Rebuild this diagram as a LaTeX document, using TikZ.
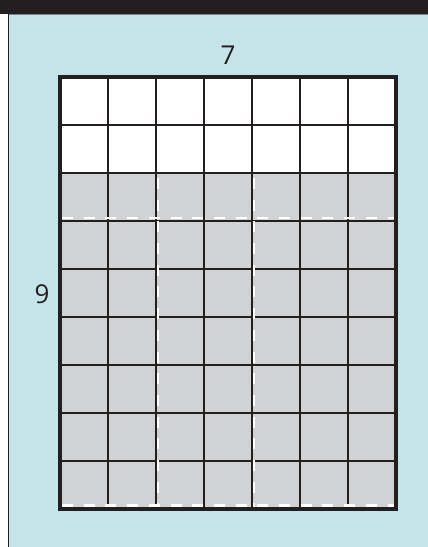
\documentclass[tikz,border=0pt]{standalone}
\usepackage{fontspec}
\setmainfont{Open Sans}
\definecolor{panelblue}{HTML}{C5E4E9}
\definecolor{cellgray}{HTML}{D1D2D4}
\definecolor{inkblack}{HTML}{231F20}
\definecolor{rulegray}{HTML}{808285}
\usetikzlibrary{positioning}

\begin{document}
\begin{tikzpicture}[
    x=1pt, y=1pt,
    gridline/.style={draw=inkblack, line width=1.3pt},
    frame/.style={draw=inkblack, line width=3.5pt},
    cutline/.style={draw=white, line width=2.6pt, dash pattern=on 11pt off 10.7pt},
    dimlabel/.style={font=\fontsize{26}{30}\selectfont, text=inkblack}
  ]
    \useasboundingbox (0,0) rectangle (428,547);

    % panel and title bar
    \fill[panelblue] (8,0) rectangle (428,532);
    \fill[inkblack] (0,533) rectangle (428,547);
    \fill[rulegray] (8,531.5) rectangle (428,533);
    \draw[inkblack, line width=1pt] (8,0) -- (8,533);

    % board of 7 x 9 cells
    \fill[white] (60,374) rectangle (396,470);
    \fill[cellgray] (60,38) rectangle (396,374);
    \draw[gridline, shift={(60,38)}] (0,0) grid[step=48pt] (336.5,432.5);

    % cut lines
    \draw[cutline] (62,329) -- (394,329);
    \draw[cutline] (62,41.5) -- (394,41.5);
    \draw[cutline] (158,369) -- (158,40);
    \draw[cutline] (254,369) -- (254,40);

    \draw[frame] (60,38) rectangle (396,470);

    \node[dimlabel] (cols) at (228,492) {7};
    \node[dimlabel] (rows) at (42,253) {9};
  \end{tikzpicture}
\end{document}
